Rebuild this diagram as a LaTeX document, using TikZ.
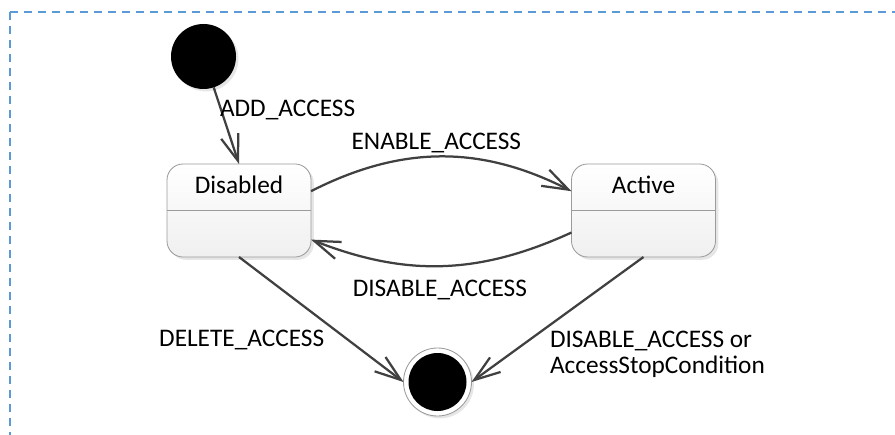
\documentclass[tikz,border=0pt]{standalone}
\usepackage{fontspec}
\setmainfont{Carlito}
\usetikzlibrary{arrows.meta, calc, shadows}
\definecolor{framecol}{RGB}{91,155,213}
\definecolor{linecol}{RGB}{64,64,64}
\definecolor{boxcol}{RGB}{155,155,155}
\tikzstyle{state} = [%
					draw = boxcol, line width = 0.6pt,
					rounded corners = 0.4cm,
					minimum width = 3.6cm, minimum height = 2.325cm,
					top color = white, bottom color = black!6,
					drop shadow = {shadow xshift=0.07cm, shadow yshift=-0.07cm, opacity=0.2}
					]
\tikzstyle{trans} = [%
					line width = 1.6pt,
					color = linecol,
					-{Straight Barb[length=0.65cm, width=0.45cm]}
					]
\tikzstyle{lbl} = [%
					inner sep = 0pt,
					anchor = base west]
\tikzstyle{frame} = [%
					line width = 1.5pt,
					color = framecol,
					dash pattern = on 0.21cm off 0.14cm]

\begin{document}
\begin{tikzpicture}[font=\fontsize{18}{18}\selectfont, outer sep=0pt]
		
		\useasboundingbox (0,0) rectangle (22.375,10.85);
		
		% Coordinates
		\coordinate (I) at (5.0875,9.4375);
		\coordinate (D) at (5.975,5.5875);
		\coordinate (A) at (16.0875,5.5875);
		\coordinate (F) at (10.9375,1.3);
		\coordinate (corner) at (0.25,10.55);
		
		% Frame
		\draw[frame] (corner) -- (22.5,10.55);
		\draw[frame] (corner) -- (0.25,-0.2);
		
		% Nodes
		%% Initial
		\node[circle, fill=black, minimum size=1.625cm,
			drop shadow={shadow xshift=0.06cm, shadow yshift=-0.06cm, opacity=0.2}] at (I) (init) {};
		%% States
		\node[state] at (D) (dis) {};
		\node[state] at (A) (act) {};
		\draw[boxcol, line width=0.6pt] (dis.west) -- (dis.east);
		\draw[boxcol, line width=0.6pt] (act.west) -- (act.east);
		\node[anchor=base, inner sep=0pt] at ($(dis.north)+(0,-0.7325)$) (disname) {Disabled};
		\node[anchor=base, inner sep=0pt] at ($(act.north)+(0,-0.7325)$) (actname) {Active};
		%% Final
		\node[circle, draw=boxcol, line width=0.6pt, fill=white, minimum size=1.7cm,
			drop shadow={shadow xshift=0.06cm, shadow yshift=-0.06cm, opacity=0.2},
			path picture={\fill[black] (path picture bounding box.center) circle (0.725cm);}] at (F) (fin) {};
		
		% Transitions
		\draw[trans] (init) -- (dis.north);
		\draw[trans] (dis.15) to[bend left=27] (act.165);
		\draw[trans] (act.197) to[bend left=23] (dis.338);
		\draw[trans] (dis.south) -- (fin.west);
		\draw[trans] (act.south) -- (fin.east);
		
		% Labels
		\node[lbl] at (5.5,7.93) {ADD\_ACCESS};
		\node[lbl] at (8.79,7.12) {ENABLE\_ACCESS};
		\node[lbl] at (8.82,3.43) {DISABLE\_ACCESS};
		\node[lbl] at (3.98,2.18) {DELETE\_ACCESS};
		\node[lbl, align=left] at (13.75,1.525) {DISABLE\_ACCESS or\\AccessStopCondition};
	\end{tikzpicture}
\end{document}
